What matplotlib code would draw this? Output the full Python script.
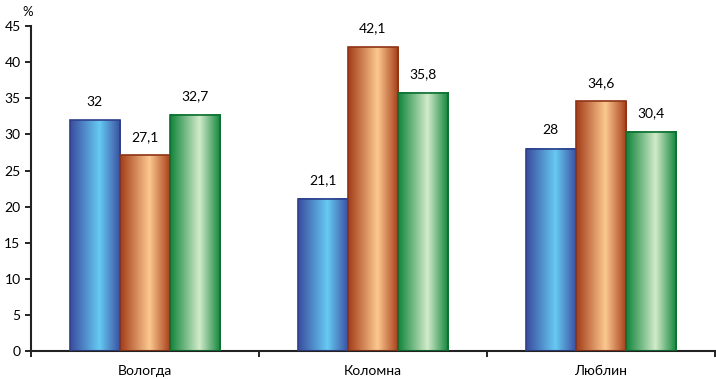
import numpy as np
import matplotlib
import matplotlib.pyplot as plt
from matplotlib.colors import LinearSegmentedColormap

matplotlib.use('agg')

categories = ['Вологда', 'Коломна', 'Люблин']
series_a = [32, 21.1, 28]
series_b = [27.1, 42.1, 34.6]
series_c = [32.7, 35.8, 30.4]
y_ticks = [0, 5, 10, 15, 20, 25, 30, 35, 40, 45]

# dark edge, light centre, edge colour for each series
styles = [
    ('#3a4c9f', '#66caf2', '#2e3f8a'),
    ('#a43c18', '#fcc890', '#8e3414'),
    ('#10843a', '#d2ebcb', '#0b7030'),
]

plt.rcParams['font.family'] = ['Lato', 'DejaVu Sans']

fig = plt.figure(figsize=(7.16, 3.79), dpi=100)
ax = fig.add_axes([0.0433, 0.0739, 0.955, 0.857])

x = np.arange(len(categories))
w = 0.22
grad = np.linspace(0, 1, 200).reshape(1, -1)

for i, (vals, (dark, light, edge)) in enumerate(zip([series_a, series_b, series_c], styles)):
    cmap = LinearSegmentedColormap.from_list('g%d' % i, [(0, dark), (0.58, light), (1, dark)])
    bars = ax.bar(x + (i - 1) * w, vals, w, facecolor='none', edgecolor=edge, linewidth=1.2, zorder=3)
    for b, v in zip(bars, vals):
        x0 = b.get_x()
        ax.imshow(grad, cmap=cmap, extent=[x0, x0 + b.get_width(), 0, b.get_height()],
                  aspect='auto', zorder=2, interpolation='bilinear')
        ax.annotate(str(v).replace('.', ','), (x0 + b.get_width() / 2, v),
                    xytext=(0, 9), textcoords='offset points', ha='center', va='bottom', fontsize=10)

ax.set_xlim(-0.5, 2.5)
ax.set_ylim(0, 45)
ax.set_yticks(y_ticks)
ax.set_xticks(x)
ax.set_xticklabels(categories, fontsize=10)
ax.set_xticks([-0.5, 0.5, 1.5, 2.5], minor=True)
ax.tick_params(axis='x', which='major', length=0, pad=10)
ax.tick_params(axis='x', which='minor', length=4, width=1.2, direction='out')
ax.tick_params(axis='y', length=4, width=1.2, direction='out', labelsize=10)
for s in ['top', 'right']:
    ax.spines[s].set_visible(False)
for s in ['left', 'bottom']:
    ax.spines[s].set_linewidth(1.5)
    ax.spines[s].set_color('#222222')

ax.text(-0.005, 1.025, '%', transform=ax.transAxes, ha='center', va='bottom', fontsize=9.5)

fig.savefig('out.png', dpi=100)
